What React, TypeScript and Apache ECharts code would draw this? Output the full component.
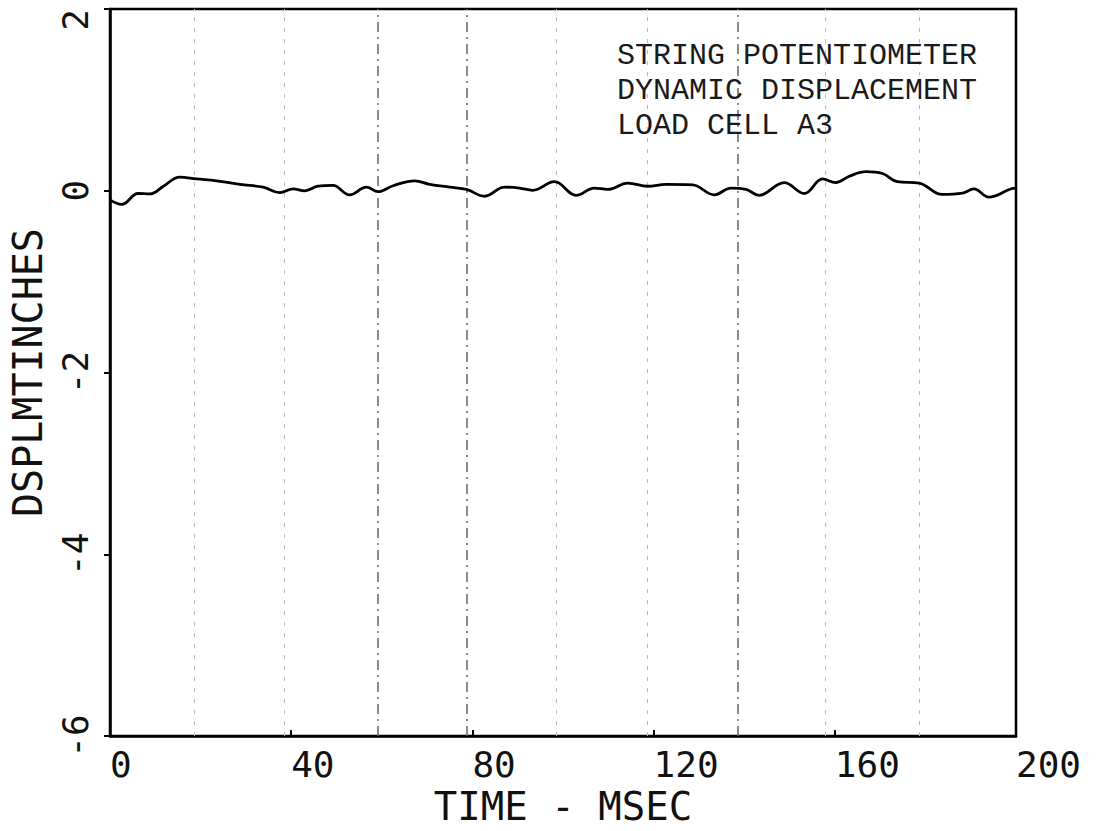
import React, { useEffect, useRef } from "react";
import * as echarts from "echarts";

// ---- data ----
const TIME_MS = [
  0, 2.6, 6.2, 8.8, 11.8, 15.4, 19.1, 23.5, 28.7, 33.8, 37.5, 40.4, 43, 45.9, 49.2, 52.9, 56.6, 59.2,
  62.5, 67.3, 70.6, 75, 78.7, 82.7, 87.1, 90.4, 93.3, 98.1, 102.9, 106.9, 109.9, 114.3, 118.7, 122.7,
  128.6, 133.4, 137.1, 140.4, 143.3, 148.8, 153.3, 157.3, 160.2, 163.2, 166.9, 170.5, 173.8, 178.6,
  183.7, 188.2, 190.7, 194, 198.8, 200,
];
const DISPLACEMENT_IN = [
  -0.1, -0.15, -0.03, -0.035, 0.05, 0.15, 0.13, 0.11, 0.07, 0.04, -0.02, 0.02, 0.0, 0.05, 0.06, -0.045,
  0.04, -0.01, 0.055, 0.11, 0.07, 0.04, 0.015, -0.06, 0.04, 0.03, 0.005, 0.1, -0.05, 0.03, 0.015, 0.085,
  0.05, 0.07, 0.065, -0.045, 0.03, 0.015, -0.05, 0.09, -0.03, 0.13, 0.09, 0.16, 0.21, 0.19, 0.1, 0.085,
  -0.04, -0.025, 0.02, -0.07, 0.02, 0.03,
];
const X_TICKS = [0, 40, 80, 120, 160, 200];
const Y_TICKS = [-6, -4, -2, 0, 2];
// faint vertical show-through lines on the scanned sheet (msec)
const DARK_STREAKS = [59, 78.7, 138.5];
const LIGHT_STREAKS = [18.6, 38.5, 98.6, 118.7, 158, 178.6];

const ANNOTATION = ["STRING POTENTIOMETER", "DYNAMIC DISPLACEMENT", "LOAD CELL A3"];
const X_NAME = "TIME - MSEC";
const Y_NAME = "DSPLMTINCHES";

const PLOT_FONT = "'DejaVu Sans Mono', 'Liberation Mono', monospace";
const TYPE_FONT = "'Courier New', 'Liberation Mono', monospace";

export default function App() {
  const ref = useRef<HTMLDivElement>(null);

  useEffect(() => {
    if (!ref.current) return;
    const chart = echarts.init(ref.current, undefined, { renderer: "svg" });
    const points = TIME_MS.map((t, i) => [t, DISPLACEMENT_IN[i]]);
    chart.setOption({
      animation: false,
      backgroundColor: "#ffffff",
      title: {
        text: ANNOTATION.join("\n"),
        left: 612,
        top: 33,
        textStyle: {
          fontFamily: TYPE_FONT,
          fontSize: 30,
          fontWeight: "normal",
          lineHeight: 35,
          color: "#1a1a1a",
        },
      },
      grid: {
        left: 110,
        right: 84,
        top: 9,
        bottom: 86,
        show: true,
        borderColor: "#000",
        borderWidth: 2.5,
        backgroundColor: "transparent",
      },
      xAxis: {
        type: "value",
        min: X_TICKS[0],
        max: X_TICKS[X_TICKS.length - 1],
        interval: X_TICKS[1] - X_TICKS[0],
        name: X_NAME,
        nameLocation: "middle",
        nameGap: 48,
        nameTextStyle: { fontFamily: PLOT_FONT, fontSize: 39, color: "#111" },
        axisLine: { show: true, onZero: false, lineStyle: { color: "#000", width: 2.5 } },
        axisTick: { show: true, inside: true, length: 6, lineStyle: { color: "#000", width: 2 } },
        axisLabel: {
          show: true,
          margin: 10,
          align: "left",
          fontFamily: PLOT_FONT,
          fontSize: 36,
          color: "#111",
          showMinLabel: true,
          showMaxLabel: true,
          formatter: (v: number) => String(v),
        },
        splitLine: { show: false },
      },
      yAxis: {
        type: "value",
        min: Y_TICKS[0],
        max: Y_TICKS[Y_TICKS.length - 1],
        interval: Y_TICKS[1] - Y_TICKS[0],
        name: Y_NAME,
        nameLocation: "middle",
        nameRotate: 90,
        nameGap: 62,
        nameTextStyle: { fontFamily: PLOT_FONT, fontSize: 40, color: "#111" },
        axisLine: { show: true, onZero: false, lineStyle: { color: "#000", width: 2.5 } },
        axisTick: { show: true, length: 6, lineStyle: { color: "#000", width: 2 } },
        axisLabel: {
          show: true,
          rotate: 90,
          margin: 17,
          fontFamily: PLOT_FONT,
          fontSize: 36,
          color: "#111",
          showMinLabel: true,
          showMaxLabel: true,
          alignMaxLabel: "right",
        },
        splitLine: { show: false },
      },
      series: [
        {
          type: "line",
          data: points,
          showSymbol: false,
          smooth: 0.4,
          lineStyle: { color: "#000", width: 2.8 },
          z: 5,
          markLine: {
            silent: true,
            symbol: "none",
            label: { show: false },
            data: [
              ...DARK_STREAKS.map((t) => ({
                xAxis: t,
                lineStyle: { color: "#666", width: 1.5, type: [10, 5, 2, 5] },
              })),
              ...LIGHT_STREAKS.map((t) => ({
                xAxis: t,
                lineStyle: { color: "#bbb", width: 1, type: [4, 7] },
              })),
            ],
          },
        },
      ],
    });
    return () => chart.dispose();
  }, []);

  return (
    <div
      ref={ref}
      style={{ position: "absolute", left: 0, top: 0, width: 1100, height: 831, background: "#fff" }}
    />
  );
}
